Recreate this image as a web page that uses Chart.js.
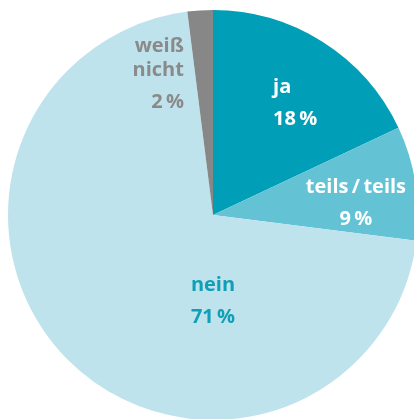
<!DOCTYPE html>
<html>
<head>
<meta charset="utf-8">
<script src="https://cdn.jsdelivr.net/npm/chart.js@4"></script>
<style>
  html, body { margin: 0; padding: 0; background: #fff; overflow: hidden; }
  #wrap { position: absolute; left: 0; top: 0; width: 420px; height: 425px; }
</style>
</head>
<body>
<div id="wrap"><canvas id="pie"></canvas></div>
<script>
const categories = ['ja', 'teils / teils', 'nein', 'weiß nicht'];
const shares = [18, 9, 71, 2];
const sliceColors = ['#009fb7', '#63c3d5', '#bee3ec', '#878787'];
const textColors = ['#ffffff', '#ffffff', '#109fb6', '#8a8a8a'];
// label lines for categories that wrap
const labelLines = [['ja'], ['teils\u2009/\u2009teils'], ['nein'], ['weiß', 'nicht']];
// where each label sits: angle from top (deg), radius fraction, alignment
const labelAnchor = [[33.7, 0.528, 'left'], [94.0, 0.699, 'center'], [180, 0.527, 'center'], [344.8, 0.541, 'right']];

const pieLabels = {
    id: 'pieLabels',
    afterDatasetsDraw(chart) {
        const ctx = chart.ctx;
        const arc = chart.getDatasetMeta(0).data[0];
        const cx = arc.x, cy = arc.y, r = arc.outerRadius;
        ctx.save();
        ctx.font = "bold 20px 'Open Sans', sans-serif";
        ctx.textBaseline = 'alphabetic';
        shares.forEach((v, i) => {
            const [deg, f, align] = labelAnchor[i];
            const a = deg * Math.PI / 180;
            const x = cx + Math.sin(a) * r * f;
            const y = cy - Math.cos(a) * r * f;
            ctx.fillStyle = textColors[i];
            ctx.textAlign = align;
            ctx.fillText(v + '\u2009%', x, y);
            const lines = labelLines[i];
            lines.forEach((t, j) => {
                const off = 32 + (lines.length - 1 - j) * 24;
                ctx.fillText(t, x, y - off);
            });
        });
        ctx.restore();
    }
};

new Chart(document.getElementById('pie'), {
    type: 'pie',
    data: {
        labels: categories,
        datasets: [{
            data: shares,
            backgroundColor: sliceColors,
            borderWidth: 0
        }]
    },
    options: {
        responsive: true,
        maintainAspectRatio: false,
        animation: false,
        layout: { padding: { left: 8, top: 10, right: 2, bottom: 5 } },
        plugins: {
            legend: { display: false },
            tooltip: { enabled: false }
        }
    },
    plugins: [pieLabels]
});
</script>
</body>
</html>
